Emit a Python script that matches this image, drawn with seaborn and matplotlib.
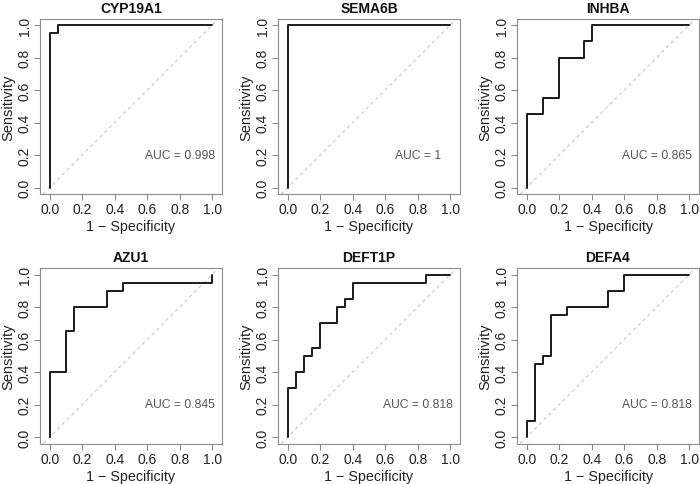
import matplotlib
matplotlib.use("Agg")
import matplotlib.pyplot as plt
import seaborn as sns
import pandas as pd

# ROC step curves: (1 - specificity, sensitivity)
genes = ["CYP19A1", "SEMA6B", "INHBA", "AZU1", "DEFT1P", "DEFA4"]
auc_values = ["0.998", "1", "0.865", "0.845", "0.818", "0.818"]

cyp19a1_fpr = [0, 0, 0.05, 0.05, 1]
cyp19a1_tpr = [0, 0.95, 0.95, 1, 1]

sema6b_fpr = [0, 0, 1]
sema6b_tpr = [0, 1, 1]

inhba_fpr = [0, 0, 0.1, 0.1, 0.2, 0.2, 0.35, 0.35, 0.4, 0.4, 1]
inhba_tpr = [0, 0.45, 0.45, 0.55, 0.55, 0.8, 0.8, 0.9, 0.9, 1, 1]

azu1_fpr = [0, 0, 0.1, 0.1, 0.15, 0.15, 0.35, 0.35, 0.45, 0.45, 1, 1]
azu1_tpr = [0, 0.4, 0.4, 0.65, 0.65, 0.8, 0.8, 0.9, 0.9, 0.95, 0.95, 1]

deft1p_fpr = [0, 0, 0.05, 0.05, 0.1, 0.1, 0.15, 0.15, 0.2, 0.2,
              0.3, 0.3, 0.35, 0.35, 0.4, 0.4, 0.85, 0.85, 1]
deft1p_tpr = [0, 0.3, 0.3, 0.4, 0.4, 0.5, 0.5, 0.55, 0.55, 0.7,
              0.7, 0.8, 0.8, 0.85, 0.85, 0.95, 0.95, 1, 1]

defa4_fpr = [0, 0, 0.05, 0.05, 0.1, 0.1, 0.15, 0.15, 0.25, 0.25,
             0.5, 0.5, 0.6, 0.6, 1]
defa4_tpr = [0, 0.1, 0.1, 0.45, 0.45, 0.5, 0.5, 0.75, 0.75, 0.8,
             0.8, 0.9, 0.9, 1, 1]

curves = [
    (cyp19a1_fpr, cyp19a1_tpr),
    (sema6b_fpr, sema6b_tpr),
    (inhba_fpr, inhba_tpr),
    (azu1_fpr, azu1_tpr),
    (deft1p_fpr, deft1p_tpr),
    (defa4_fpr, defa4_tpr),
]

sns.set_style("white")
plt.rcParams["font.family"] = ["Liberation Sans", "DejaVu Sans"]

W, H = 700, 485
fig = plt.figure(figsize=(7, 4.85), dpi=100)

col_left = [40, 278, 517]
row_top = [19.5, 269]
box_w, box_h = 182, 175.5

ticks = [0.0, 0.2, 0.4, 0.6, 0.8, 1.0]
tick_labels = ["0.0", "0.2", "0.4", "0.6", "0.8", "1.0"]
edge = "#8c8c8c"

for i, gene in enumerate(genes):
    r, c = divmod(i, 3)
    ax = fig.add_axes([col_left[c] / W, 1 - (row_top[r] + box_h) / H,
                       box_w / W, box_h / H])
    fpr, tpr = curves[i]
    df = pd.DataFrame({"fpr": fpr, "tpr": tpr})

    ax.axline((0, 0), (1, 1), color="#c8c8c8", lw=0.8, ls=(0, (3, 3)), zorder=1)
    sns.lineplot(data=df, x="fpr", y="tpr", sort=False, estimator=None,
                 color="#1a1a1a", lw=1.4, ax=ax, zorder=3)

    ax.set_xlim(-0.06, 1.06)
    ax.set_ylim(-0.04, 1.04)
    ax.set_xticks(ticks)
    ax.set_xticklabels(tick_labels)
    ax.set_yticks(ticks)
    ax.set_yticklabels(tick_labels, rotation=90, va="center")
    ax.tick_params(axis="both", direction="out", length=4, width=0.8,
                   color=edge, labelsize=10, labelcolor="#222222", pad=2,
                   bottom=True, left=True)
    for s in ax.spines.values():
        s.set_color(edge)
        s.set_linewidth(0.8)

    ax.set_xlabel("1 \u2212 Specificity", fontsize=10.3, color="#222222", labelpad=2)
    ax.set_ylabel("Sensitivity", fontsize=10.5, color="#222222", labelpad=2)
    ax.set_title(gene, fontsize=10, fontweight="bold", color="#111111", pad=5)
    ax.text(0.8, 0.2, f"AUC = {auc_values[i]}", ha="center", va="center",
            fontsize=8.7, color="#555555")

fig.savefig("out.png", dpi=100)
